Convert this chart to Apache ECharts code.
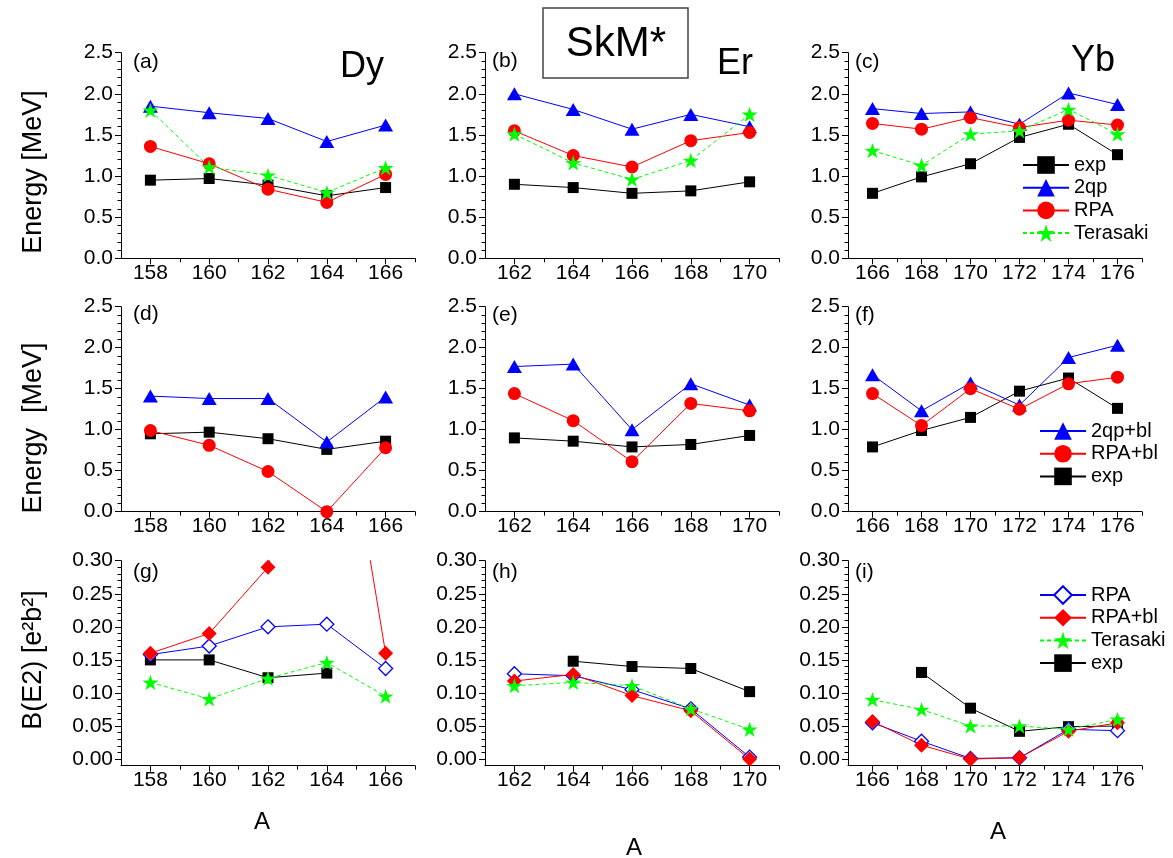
<!DOCTYPE html>
<html lang="en">
<head>
<meta charset="UTF-8">
<title>SkM* Dy Er Yb</title>
<style>
    html, body { margin: 0; padding: 0; background: #fff; }
    #chart { width: 1173px; height: 858px; }
</style>
</head>
<body>
<div id="chart"></div>
<script src="https://cdn.jsdelivr.net/npm/echarts@6.0.0/dist/echarts.min.js"></script>
<script>
    // mass numbers A
    let aDy = [158, 160, 162, 164, 166];
    let aEr = [162, 164, 166, 168, 170];
    let aYb = [166, 168, 170, 172, 174, 176];

    // tick labels
    let energyTicks = [0, 0.5, 1.0, 1.5, 2.0, 2.5];
    let be2Ticks = [0, 0.05, 0.10, 0.15, 0.20, 0.25, 0.30];

    // (a)-(c) gamma-vibration energies [MeV]
    let dyExp = [0.95, 0.97, 0.89, 0.76, 0.86];
    let dy2qp = [1.85, 1.77, 1.70, 1.42, 1.62];
    let dyRPA = [1.36, 1.15, 0.84, 0.68, 1.02];
    let dyTerasaki = [1.80, 1.11, 1.01, 0.80, 1.10];

    let erExp = [0.90, 0.86, 0.79, 0.82, 0.93];
    let er2qp = [2.00, 1.81, 1.57, 1.75, 1.60];
    let erRPA = [1.55, 1.25, 1.11, 1.43, 1.53];
    let erTerasaki = [1.51, 1.16, 0.96, 1.19, 1.75];

    let ybExp = [0.79, 0.99, 1.15, 1.47, 1.63, 1.26];
    let yb2qp = [1.82, 1.76, 1.78, 1.63, 2.01, 1.87];
    let ybRPA = [1.64, 1.57, 1.71, 1.59, 1.68, 1.62];
    let ybTerasaki = [1.31, 1.13, 1.51, 1.55, 1.81, 1.51];

    // (d)-(f) with blocking
    let dy2qpBl = [1.41, 1.38, 1.38, 0.85, 1.40];
    let dyRPABl = [0.99, 0.81, 0.49, 0.00, 0.78];
    let er2qpBl = [1.77, 1.80, 1.00, 1.56, 1.30];
    let erRPABl = [1.44, 1.11, 0.61, 1.32, 1.23];
    let yb2qpBl = [1.67, 1.23, 1.57, 1.30, 1.88, 2.03];
    let ybRPABl = [1.44, 1.05, 1.50, 1.25, 1.56, 1.64];

    // (g)-(i) B(E2) [e2b2]
    let dyBE2RPA = [0.158, 0.171, 0.200, 0.204, 0.137];
    let dyBE2RPABl = [0.160, 0.190, 0.290, 0.700, 0.160];
    let dyBE2Terasaki = [0.116, 0.091, 0.122, 0.146, 0.095];
    let dyBE2Exp = [0.150, 0.150, 0.123, 0.130, null];

    let erBE2RPA = [0.129, 0.126, 0.105, 0.076, 0.003];
    let erBE2RPABl = [0.118, 0.128, 0.096, 0.073, 0.000];
    let erBE2Terasaki = [0.111, 0.116, 0.111, 0.076, 0.045];
    let erBE2Exp = [null, 0.148, 0.140, 0.137, 0.102];

    let ybBE2RPA = [0.055, 0.027, 0.001, 0.002, 0.045, 0.043];
    let ybBE2RPABl = [0.057, 0.021, 0.000, 0.002, 0.042, 0.055];
    let ybBE2Terasaki = [0.090, 0.075, 0.050, 0.050, 0.045, 0.060];
    let ybBE2Exp = [null, 0.131, 0.077, 0.042, 0.049, 0.050];

    const FONT = 'Liberation Sans';
    const STAR = 'path://M50 0 L61.23 34.55 L97.55 34.55 L68.16 55.9 L79.39 90.45 L50 69.1 L20.61 90.45 L31.84 55.9 L2.45 34.55 L38.77 34.55 Z';

    let styles = {
        'exp': {symbol: 'rect', size: 11, color: '#000000'},
        '2qp': {symbol: 'triangle', size: [15, 13], color: '#0000ff'},
        'RPA': {symbol: 'circle', size: 13, color: '#ff0000'},
        'Terasaki': {symbol: STAR, size: 16, color: '#00ff00', dashed: true},
        '2qp+bl': {symbol: 'triangle', size: [15, 13], color: '#0000ff'},
        'RPA+bl': {symbol: 'circle', size: 13, color: '#ff0000'},
        'RPA_B': {symbol: 'diamond', size: 14, color: '#0000ff', open: true},
        'RPA+bl_B': {symbol: 'diamond', size: 15, color: '#ff0000'}
    };

    let panels = [
        {a: aDy, min: 157, max: 167, lines: [['exp', dyExp], ['2qp', dy2qp], ['RPA', dyRPA], ['Terasaki', dyTerasaki]]},
        {a: aEr, min: 161, max: 171, lines: [['exp', erExp], ['2qp', er2qp], ['RPA', erRPA], ['Terasaki', erTerasaki]]},
        {a: aYb, min: 165, max: 177, lines: [['exp', ybExp], ['2qp', yb2qp], ['RPA', ybRPA], ['Terasaki', ybTerasaki]]},
        {a: aDy, min: 157, max: 167, lines: [['exp', dyExp], ['2qp+bl', dy2qpBl], ['RPA+bl', dyRPABl]]},
        {a: aEr, min: 161, max: 171, lines: [['exp', erExp], ['2qp+bl', er2qpBl], ['RPA+bl', erRPABl]]},
        {a: aYb, min: 165, max: 177, lines: [['exp', ybExp], ['2qp+bl', yb2qpBl], ['RPA+bl', ybRPABl]]},
        {a: aDy, min: 157, max: 167, lines: [['exp', dyBE2Exp], ['RPA_B', dyBE2RPA], ['RPA+bl_B', dyBE2RPABl], ['Terasaki', dyBE2Terasaki]]},
        {a: aEr, min: 161, max: 171, lines: [['exp', erBE2Exp], ['RPA_B', erBE2RPA], ['RPA+bl_B', erBE2RPABl], ['Terasaki', erBE2Terasaki]]},
        {a: aYb, min: 165, max: 177, lines: [['exp', ybBE2Exp], ['RPA_B', ybBE2RPA], ['RPA+bl_B', ybBE2RPABl], ['Terasaki', ybBE2Terasaki]]}
    ];

    let colLeft = [121, 485, 848];
    let colWidth = 294;
    let rowTop = [52.7, 306.7, 560.7];
    let rowHeight = [205.6, 205, 205];
    let rowAxis = [
        {min: 0, max: 2.5, ticks: energyTicks, dec: 1},
        {min: 0, max: 2.5, ticks: energyTicks, dec: 1},
        {min: -0.01, max: 0.30, ticks: be2Ticks, dec: 2}
    ];

    function minorOf(ticks) {
        let out = [];
        for (let k = 0; k < ticks.length - 1; k++) {
            let step = (ticks[k + 1] - ticks[k]) / 5;
            for (let m = 1; m < 5; m++) out.push(ticks[k] + m * step);
        }
        return out;
    }

    let grids = [], mainX = [], minorX = [], mainY = [], minorY = [], series = [];
    let black = {color: '#000', width: 1};

    panels.forEach(function (p, i) {
        let col = i % 3, row = Math.floor(i / 3);
        let ya = rowAxis[row];
        grids.push({left: colLeft[col], width: colWidth, top: rowTop[row], height: rowHeight[row], outerBoundsMode: 'none'});
        mainX.push({
            type: 'value', gridIndex: i, min: p.min, max: p.max, position: 'bottom',
            axisLine: {show: true, onZero: false, lineStyle: black},
            axisTick: {show: true, customValues: p.a, length: 6, lineStyle: black},
            axisLabel: {customValues: p.a, fontSize: 21, fontFamily: FONT, color: '#000', margin: 4},
            splitLine: {show: false}
        });
        minorX.push({
            type: 'value', gridIndex: i, min: p.min, max: p.max, position: 'bottom',
            axisLine: {show: false, onZero: false},
            axisTick: {show: true, customValues: p.a.map(function (v) { return v + 1; }), length: 4, lineStyle: black},
            axisLabel: {show: false},
            splitLine: {show: false}
        });
        mainY.push({
            type: 'value', gridIndex: i, min: ya.min, max: ya.max, position: 'left',
            axisLine: {show: true, onZero: false, lineStyle: black},
            axisTick: {show: true, customValues: ya.ticks, length: 6, lineStyle: black},
            axisLabel: {
                customValues: ya.ticks, fontSize: 21, fontFamily: FONT, color: '#000', margin: 8,
                formatter: function (v) { return v.toFixed(ya.dec); }
            },
            splitLine: {show: false}
        });
        minorY.push({
            type: 'value', gridIndex: i, min: ya.min, max: ya.max, position: 'left',
            axisLine: {show: false, onZero: false},
            axisTick: {show: true, customValues: minorOf(ya.ticks), length: 3.5, lineStyle: black},
            axisLabel: {show: false},
            splitLine: {show: false}
        });
        p.lines.forEach(function (l) {
            let st = styles[l[0]];
            let pts = [];
            p.a.forEach(function (x, k) {
                if (l[1][k] !== null) pts.push([x, l[1][k]]);
            });
            series.push({
                type: 'line', name: l[0], xAxisIndex: i, yAxisIndex: i,
                data: pts, symbol: st.symbol, symbolSize: st.size, symbolKeepAspect: true,
                showAllSymbol: true, clip: true, animation: false,
                lineStyle: {color: st.color, width: 1, type: st.dashed ? [4, 3] : 'solid'},
                itemStyle: st.open ? {color: '#ffffff', borderColor: st.color, borderWidth: 1.3}
                                   : {color: st.color, borderWidth: 0},
                emphasis: {disabled: true}
            });
        });
    });

    let legendBase = {
        orient: 'vertical', itemWidth: 46, itemHeight: 22, itemGap: 2.7, padding: 0,
        textStyle: {fontSize: 20, fontFamily: FONT, color: '#000'},
        formatter: function (name) { return name.replace('_B', ''); }
    };

    function txt(x, y, s, size, extra) {
        return Object.assign({
            type: 'text', x: x, y: y,
            style: {text: s, fontSize: size, fontFamily: FONT, fill: '#000', align: 'center', verticalAlign: 'middle'}
        }, extra || {});
    }

    let labels = [
        [133, 62, '(a)'], [492, 61, '(b)'], [855, 62, '(c)'],
        [133, 314, '(d)'], [492, 315, '(e)'], [855, 315, '(f)'],
        [133, 572, '(g)'], [492, 572, '(h)'], [855, 572, '(i)']
    ];

    let graphic = [
        {type: 'rect', shape: {x: 543, y: 8, width: 145, height: 70}, style: {fill: '#fff', stroke: '#444', lineWidth: 1.5}},
        txt(616, 44, 'SkM*', 42),
        txt(362, 67, 'Dy', 36),
        txt(735, 64, 'Er', 36),
        txt(1093, 61, 'Yb', 36),
        txt(34, 172, 'Energy [MeV]', 27, {rotation: Math.PI / 2}),
        txt(34, 428, 'Energy  [MeV]', 27, {rotation: Math.PI / 2}),
        txt(34, 660, 'B(E2) [e²b²]', 27, {rotation: Math.PI / 2}),
        txt(262, 822, 'A', 24),
        txt(634, 848, 'A', 24),
        txt(998, 832, 'A', 24)
    ];
    labels.forEach(function (l) {
        let t = txt(l[0], l[1], l[2], 21);
        t.style.align = 'left';
        graphic.push(t);
    });

    let chart = echarts.init(document.getElementById('chart'), null, {renderer: 'canvas'});
    chart.setOption({
        backgroundColor: '#ffffff',
        animation: false,
        textStyle: {fontFamily: FONT},
        grid: grids,
        xAxis: mainX.concat(minorX),
        yAxis: mainY.concat(minorY),
        legend: [
            Object.assign({}, legendBase, {left: 1022, top: 155, data: ['exp', '2qp', 'RPA', 'Terasaki']}),
            Object.assign({}, legendBase, {left: 1039, top: 421, data: ['2qp+bl', 'RPA+bl', 'exp']}),
            Object.assign({}, legendBase, {left: 1039, top: 585, data: ['RPA_B', 'RPA+bl_B', 'Terasaki', 'exp']})
        ],
        graphic: graphic,
        series: series
    });
</script>
</body>
</html>
